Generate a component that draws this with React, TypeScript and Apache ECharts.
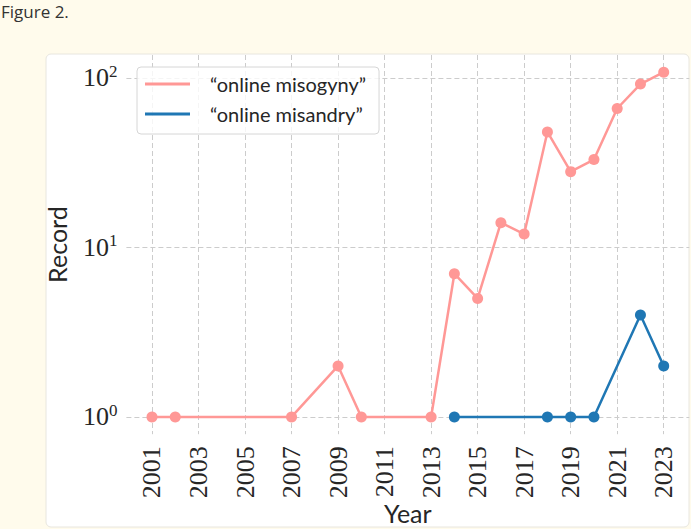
import React, { useEffect, useRef } from "react";
import * as echarts from "echarts";

const misogynyYears = [2001, 2002, 2007, 2009, 2010, 2013, 2014, 2015, 2016, 2017, 2018, 2019, 2020, 2021, 2022, 2023];
const misogynyCounts = [1, 1, 1, 2, 1, 1, 7, 5, 14, 12, 48, 28, 33, 66, 92, 108];
const misandryYears = [2014, 2018, 2019, 2020, 2022, 2023];
const misandryCounts = [1, 1, 1, 1, 4, 2];
const xTickYears = [2001, 2003, 2005, 2007, 2009, 2011, 2013, 2015, 2017, 2019, 2021, 2023];
const yTickValues = [1, 10, 100];
const seriesNames = ["\u201conline misogyny\u201d", "\u201conline misandry\u201d"];
const seriesColors = ["#ff9896", "#1f77b4"];

const SANS = "Lato, 'Noto Sans', sans-serif";
const SERIF = "'Liberation Serif', 'DejaVu Serif', serif";

export default function App() {
  const ref = useRef<HTMLDivElement>(null);
  useEffect(() => {
    if (!ref.current) return;
    const chart = echarts.init(ref.current, null, { renderer: "svg" });
    const allYears = misogynyYears.concat(misandryYears);
    const y0 = Math.min(...allYears);
    const y1 = Math.max(...allYears);
    const xPad = 0.05 * (y1 - y0);
    const allVals = misogynyCounts.concat(misandryCounts).map((v) => Math.log10(v));
    const l0 = Math.min(...allVals);
    const l1 = Math.max(...allVals);
    const lPad = 0.05 * (l1 - l0);
    const grid = "#cccccc";
    chart.setOption({
      animation: false,
      backgroundColor: "#fffbec",
      graphic: [
        {
          type: "rect",
          z: -100,
          silent: true,
          shape: { x: 46, y: 54, width: 643, height: 473, r: 5 },
          style: { fill: "#ffffff", stroke: "#e8e6df", lineWidth: 1 },
        },
        {
          type: "text",
          left: 1,
          top: 3,
          silent: true,
          style: { text: "Figure 2.", fontFamily: "'Open Sans', sans-serif", fontSize: 17, fill: "#333333" },
        },
      ],
      grid: { left: 126.4, right: 1.7, top: 55, bottom: 94.8, containLabel: false, outerBoundsMode: "none" },
      legend: {
        orient: "vertical",
        left: 137,
        top: 67,
        itemWidth: 45,
        itemHeight: 3,
        itemGap: 6,
        padding: [5, 13, 8, 8],
        backgroundColor: "rgba(255,255,255,0.8)",
        borderColor: "#d6d6d6",
        borderWidth: 1,
        borderRadius: 4,
        data: seriesNames.map((n) => ({ name: n, icon: "rect" })),
        textStyle: { fontFamily: SANS, fontSize: 20, color: "#262626", lineHeight: 24, padding: [0, 0, 0, 15] },
      },
      xAxis: {
        type: "value",
        min: y0 - xPad,
        max: y1 + xPad,
        name: "Year",
        nameLocation: "middle",
        nameGap: 67,
        nameMoveOverlap: false,
        nameTextStyle: { fontFamily: SANS, fontSize: 25, lineHeight: 24, color: "#262626" },
        axisLine: { show: false },
        axisTick: { show: false, customValues: xTickYears },
        axisLabel: {
          customValues: xTickYears,
          rotate: 90,
          margin: 12,
          fontFamily: SERIF,
          fontSize: 26,
          color: "#262626",
          formatter: (v: number) => String(v),
        },
        splitLine: { show: true, lineStyle: { color: grid, width: 1, type: [5, 3] } },
      },
      yAxis: {
        type: "log",
        logBase: 10,
        min: Math.pow(10, l0 - lPad),
        max: Math.pow(10, l1 + lPad),
        name: "Record",
        nameLocation: "middle",
        nameGap: 57,
        nameMoveOverlap: false,
        nameTextStyle: { fontFamily: SANS, fontSize: 25, color: "#262626" },
        axisLine: { show: false },
        axisTick: { show: false, customValues: yTickValues },
        axisLabel: {
          customValues: yTickValues,
          margin: 9,
          color: "#262626",
          formatter: (v: number) => `{b|10}{s|${Math.round(Math.log10(v))}}`,
          rich: {
            b: { fontFamily: SERIF, fontSize: 26, lineHeight: 30, color: "#262626" },
            s: { fontFamily: SERIF, fontSize: 17, lineHeight: 17, verticalAlign: "top", color: "#262626" },
          },
        },
        splitLine: { show: true, lineStyle: { color: grid, width: 1, type: [5, 3] } },
      },
      series: [
        {
          name: seriesNames[0],
          type: "line",
          data: misogynyYears.map((y, i) => [y, misogynyCounts[i]]),
          symbol: "circle",
          symbolSize: 11,
          clip: false,
          color: seriesColors[0],
          lineStyle: { width: 2.5, color: seriesColors[0] },
          itemStyle: { color: seriesColors[0] },
        },
        {
          name: seriesNames[1],
          type: "line",
          data: misandryYears.map((y, i) => [y, misandryCounts[i]]),
          symbol: "circle",
          symbolSize: 11,
          clip: false,
          color: seriesColors[1],
          lineStyle: { width: 2.5, color: seriesColors[1] },
          itemStyle: { color: seriesColors[1] },
        },
      ],
    });
    return () => chart.dispose();
  }, []);
  return (
    <div style={{ position: "fixed", left: 0, top: 0, width: 691, height: 529 }}>
      <div ref={ref} style={{ width: 691, height: 529 }} />
    </div>
  );
}
